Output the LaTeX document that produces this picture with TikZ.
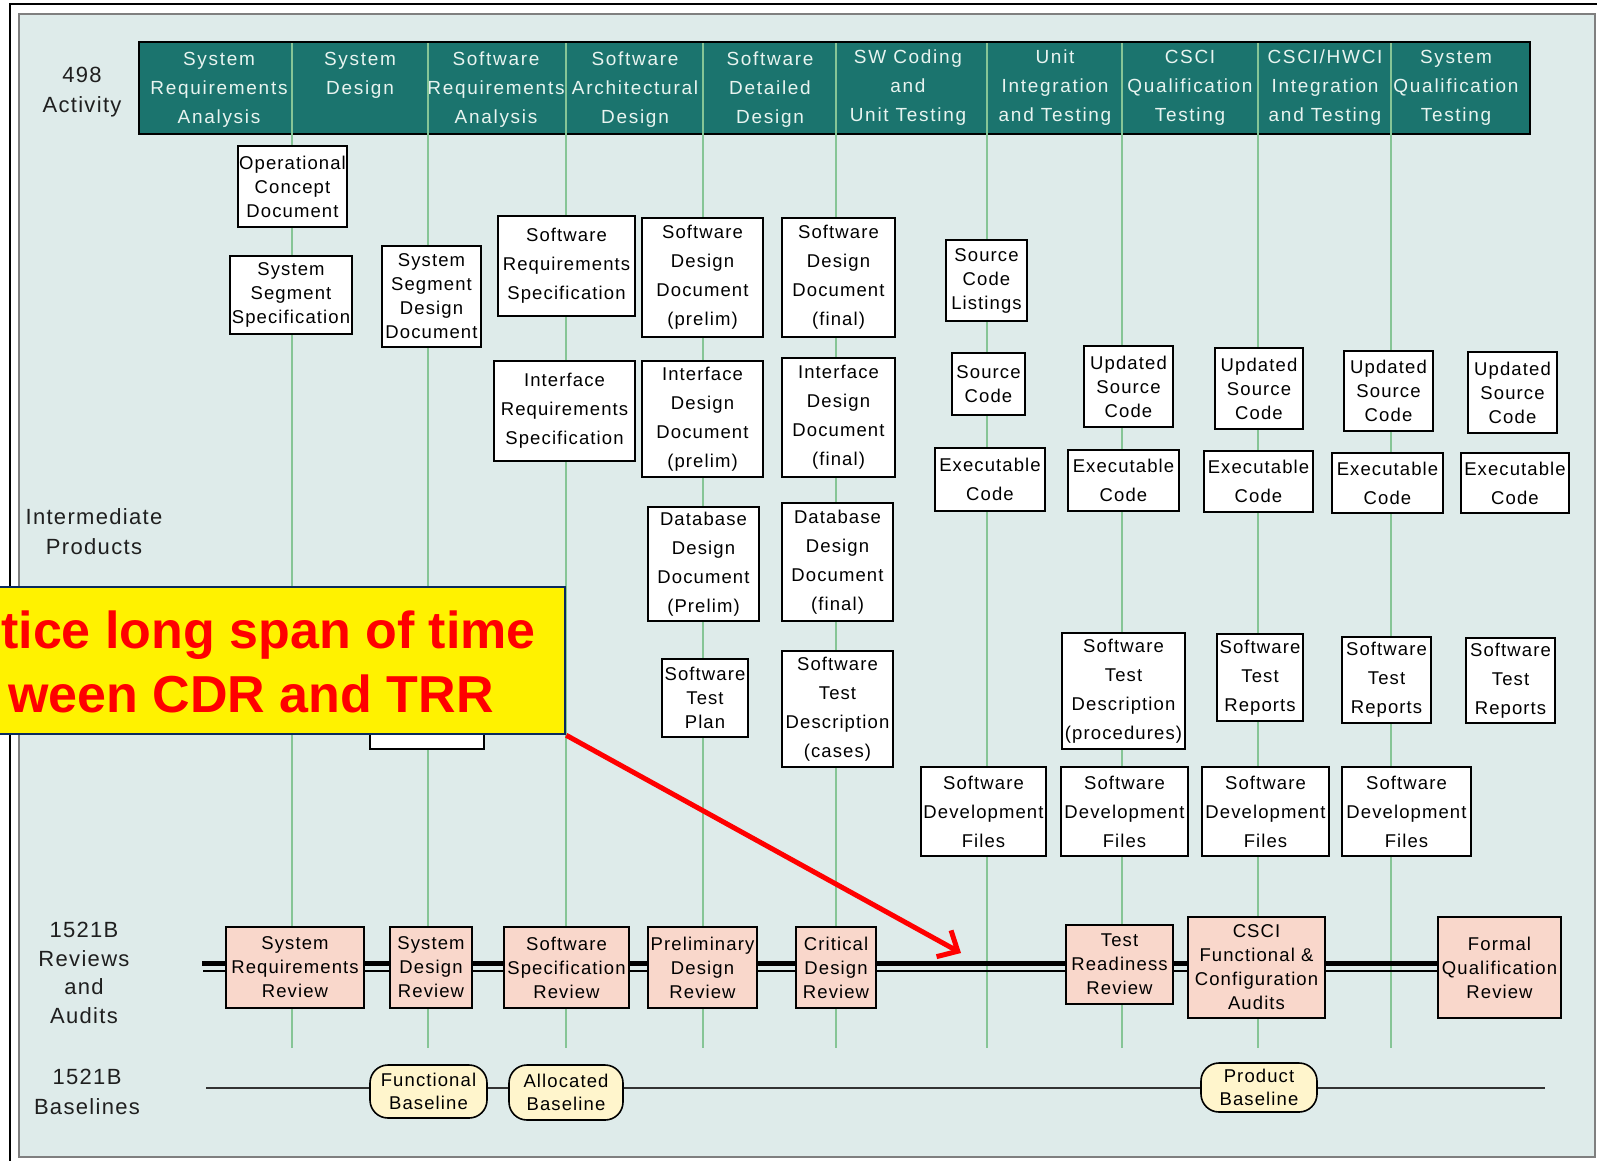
\documentclass[tikz,border=0pt]{standalone}
\usepackage{fontspec}
\setmainfont{Liberation Sans}
\newfontfamily\boxfont[LetterSpace=6]{Liberation Sans}
\newfontfamily\headfont[LetterSpace=9]{Liberation Sans}
\usetikzlibrary{arrows.meta}
\definecolor{panel}{HTML}{DEEBEA}
\definecolor{headteal}{HTML}{1B746E}
\definecolor{headtext}{HTML}{E8F4F0}
\definecolor{guidegreen}{HTML}{86C596}
\definecolor{reviewfill}{HTML}{F9D7CB}
\definecolor{baselnfill}{HTML}{FFF5CC}
\definecolor{navyline}{HTML}{0B2A5E}
\definecolor{framegray}{HTML}{7F7F7F}
\newcommand\pbx[7]{\node[#6, minimum width={#4-#2}, minimum height={#5-#3}] (#1) at ({(#2+#4)/2},{(#3+#5)/2}) {#7};}
\tikzset{
 pbox/.style={draw=black, line width=1.6pt, fill=white, inner sep=0pt, align=center, text=black, font={\boxfont\fontsize{18.5}{24}\selectfont}},
 pboxl/.style={pbox, font={\boxfont\fontsize{18.5}{29}\selectfont}},
 rbox/.style={pbox, fill=reviewfill},
 blbox/.style={pbox, fill=baselnfill, rounded corners=18pt, font={\boxfont\fontsize{18.5}{23}\selectfont}},
 hbox/.style={draw=black, line width=2pt, fill=headteal, inner sep=0pt},
 htext/.style={align=center, text=headtext, inner sep=0pt, font={\headfont\fontsize{19}{29}\selectfont}},
 side/.style={align=center, text=black!88, inner sep=0pt, font={\boxfont\fontsize{22}{30}\selectfont}},
 guideline/.style={draw=guidegreen, line width=1.3pt},
 callouttext/.style={anchor=base east, text=red, inner sep=0pt, font={\bfseries\fontsize{52}{64}\selectfont}},
}
\begin{document}
\begin{tikzpicture}[x=1pt,y=-1pt]
\useasboundingbox (0,0) rectangle (1597,1160);
\clip (0,0) rectangle (1597,1160);
% frame
\fill[white] (0,0) rectangle (1597,1160);
\draw[black, line width=2.5pt] (10,4) rectangle (1620,1180);
\draw[framegray, line width=2pt, fill=panel] (19,14) rectangle (1595,1157);

% header band
\pbx{header}{139}{42}{1530}{134}{hbox}{}
\node[htext] (h1) at (219,89.5) {System\\Requirements\\Analysis};
\node[htext] (h2) at (360,75) {System\\Design};
\node[htext] (h3) at (496,89.5) {Software\\Requirements\\Analysis};
\node[htext] (h4) at (635,89.5) {Software\\Architectural\\Design};
\node[htext] (h5) at (770,89.5) {Software\\Detailed\\Design};
\node[htext] (h6) at (908,88) {SW Coding\\and\\Unit Testing};
\node[htext] (h7) at (1055,88) {Unit\\Integration\\and Testing};
\node[htext] (h8) at (1190,88) {CSCI\\Qualification\\Testing};
\node[htext] (h9) at (1325,88) {CSCI/HWCI\\Integration\\and Testing};
\node[htext] (h10) at (1456,88) {System\\Qualification\\Testing};

% column guides
\foreach \gx in {292,428,566,703,836,987,1122,1258,1391}
  \draw[guideline] (\gx,43) -- (\gx,1048);

% side labels
\node[side] (act) at (82,92) {498\\Activity};
\node[side] (inter) at (94,532) {Intermediate\\Products};
\node[side, font={\boxfont\fontsize{22}{28.5}\selectfont}] (revlab) at (84,973) {1521B\\Reviews\\and\\Audits};
\node[side] (baselab) at (87,1091.5) {1521B\\Baselines};

% review bar and baseline line
\coordinate (barL) at (202,963.5);
\coordinate (barR) at (1440,963.5);
\coordinate (barLb) at (203,971);
\coordinate (barRb) at (1440,971);
\draw[black, line width=5.5pt] (barL) -- (barR);
\draw[black, line width=1.5pt] (barLb) -- (barRb);
\coordinate (blL) at (206,1088);
\coordinate (blR) at (1545,1088);
\draw[black!80, line width=2pt] (blL) -- (blR);

% products
\pbx{ocd}{238}{146}{347}{227}{pbox}{Operational\\Concept\\Document}
\pbx{sss}{230}{256}{352}{334}{pbox}{System\\Segment\\Specification}
\pbx{ssdd}{382}{246}{481}{347}{pbox}{System\\Segment\\Design\\Document}
\pbx{srs}{498}{216}{635}{316}{pboxl}{Software\\Requirements\\Specification}
\pbx{sddp}{642}{218}{763}{337}{pboxl}{Software\\Design\\Document\\(prelim)}
\pbx{sddf}{782}{218}{895}{337}{pboxl}{Software\\Design\\Document\\(final)}
\pbx{scl}{946}{240}{1027}{321}{pbox}{Source\\Code\\Listings}
\pbx{irs}{494}{361}{635}{461}{pboxl}{Interface\\Requirements\\Specification}
\pbx{iddp}{642}{361}{763}{477}{pboxl}{Interface\\Design\\Document\\(prelim)}
\pbx{iddf}{782}{358}{895}{477}{pboxl}{Interface\\Design\\Document\\(final)}
\pbx{dbp}{648}{507}{759}{621}{pboxl}{Database\\Design\\Document\\(Prelim)}
\pbx{dbf}{782}{503}{893}{621}{pboxl}{Database\\Design\\Document\\(final)}
\pbx{stp}{662}{659}{748}{737}{pbox}{Software\\Test\\Plan}
\pbx{stdc}{782}{651}{893}{767}{pboxl}{Software\\Test\\Description\\(cases)}
\pbx{sc}{952}{353}{1025}{415}{pbox}{Source\\Code}
\pbx{usa}{1084}{346}{1173}{427}{pbox}{Updated\\Source\\Code}
\pbx{usb}{1215}{348}{1303}{429}{pbox}{Updated\\Source\\Code}
\pbx{usc}{1344}{351}{1433}{431}{pbox}{Updated\\Source\\Code}
\pbx{usd}{1468}{352}{1557}{433}{pbox}{Updated\\Source\\Code}
\pbx{eca}{935}{448}{1045}{511}{pboxl}{Executable\\Code}
\pbx{ecb}{1068}{450}{1179}{511}{pboxl}{Executable\\Code}
\pbx{ecc}{1204}{451}{1313}{512}{pboxl}{Executable\\Code}
\pbx{ecd}{1332}{453}{1443}{513}{pboxl}{Executable\\Code}
\pbx{ece}{1461}{453}{1569}{513}{pboxl}{Executable\\Code}
\pbx{stdp}{1062}{633}{1185}{749}{pboxl}{Software\\Test\\Description\\(procedures)}
\pbx{stra}{1217}{634}{1303}{721}{pboxl}{Software\\Test\\Reports}
\pbx{strb}{1342}{637}{1431}{723}{pboxl}{Software\\Test\\Reports}
\pbx{strc}{1466}{638}{1555}{723}{pboxl}{Software\\Test\\Reports}
\pbx{sdfa}{921}{767}{1046}{856}{pboxl}{Software\\Development\\Files}
\pbx{sdfb}{1061}{767}{1188}{856}{pboxl}{Software\\Development\\Files}
\pbx{sdfc}{1202}{767}{1329}{856}{pboxl}{Software\\Development\\Files}
\pbx{sdfd}{1342}{767}{1471}{856}{pboxl}{Software\\Development\\Files}

% reviews
\pbx{srr}{226}{927}{364}{1008}{rbox}{System\\Requirements\\Review}
\pbx{sdr}{390}{927}{472}{1008}{rbox}{System\\Design\\Review}
\pbx{ssr}{504}{927}{629}{1008}{rbox}{Software\\Specification\\Review}
\pbx{pdr}{648}{927}{757}{1008}{rbox}{Preliminary\\Design\\Review}
\pbx{cdr}{796}{927}{876}{1008}{rbox}{Critical\\Design\\Review}
\pbx{trr}{1066}{925}{1173}{1004}{rbox}{Test\\Readiness\\Review}
\pbx{fca}{1188}{917}{1325}{1018}{rbox}{CSCI\\Functional \&\\Configuration\\Audits}
\pbx{fqr}{1438}{917}{1561}{1018}{rbox}{Formal\\Qualification\\Review}

% baselines
\pbx{fbl}{370}{1065}{487}{1118}{blbox}{Functional\\Baseline}
\pbx{abl}{509}{1065}{623}{1120}{blbox}{Allocated\\Baseline}
\pbx{pbl}{1201}{1063}{1317}{1112}{blbox}{Product\\Baseline}

% partly hidden box behind the callout
\pbx{hid}{370}{700}{484}{749}{pbox}{}

% callout
\pbx{callout}{-40}{587}{565}{734}{pbox, draw=navyline, line width=2.5pt, fill=yellow}{}
\node[callouttext] (ct1) at (536,648) {tice long span of time};
\node[callouttext] (ct2) at (494,712) {ween CDR and TRR};
\coordinate (arrtip) at (961,953);
\draw[red, line width=5pt, -{Straight Barb[length=16pt,width=30pt]}] (callout.south east) -- (arrtip);
\end{tikzpicture}
\end{document}
